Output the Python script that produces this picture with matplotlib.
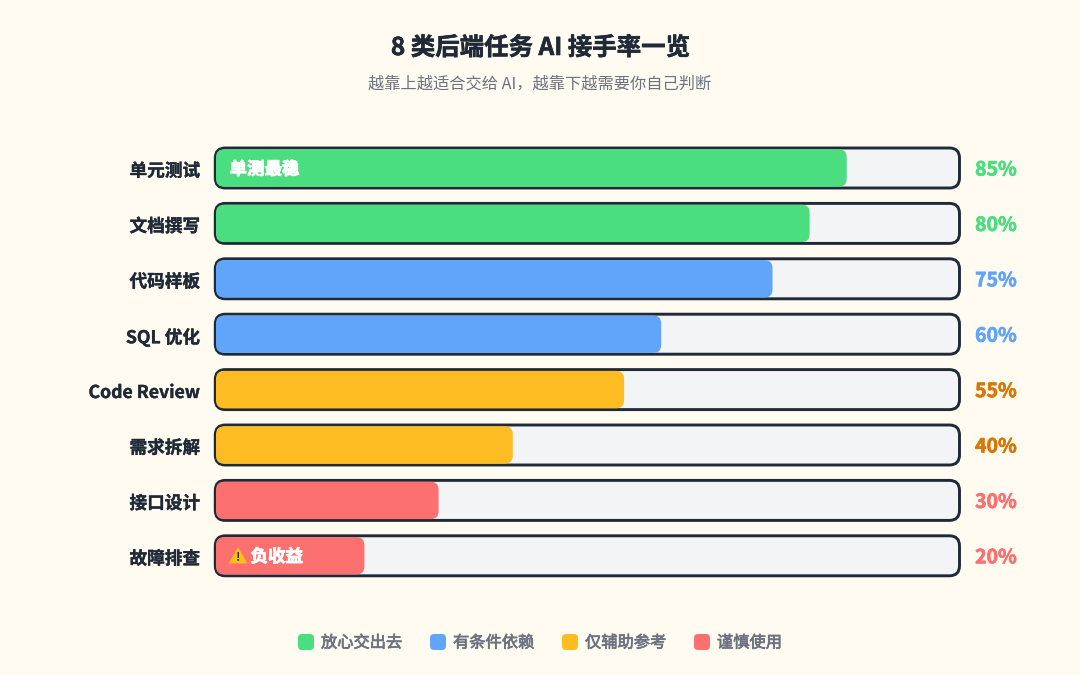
#!/usr/bin/env python
"""8 类后端任务 AI 接手率一览 -- horizontal progress bars."""
import matplotlib
matplotlib.use("Agg")
import matplotlib.patheffects as pe
import matplotlib.pyplot as plt
from matplotlib.patches import FancyBboxPatch, RegularPolygon
from matplotlib.transforms import IdentityTransform, ScaledTranslation

plt.rcParams["font.family"] = ["Noto Sans CJK SC", "DejaVu Sans"]

W, H = 1080, 675

TASKS = ["单元测试", "文档撰写", "代码样板", "SQL 优化", "Code Review", "需求拆解", "接口设计", "故障排查"]
RATES = [85, 80, 75, 60, 55, 40, 30, 20]
GROUPS = ["safe", "safe", "cond", "cond", "assist", "assist", "care", "care"]
LEGEND_LABELS = ["放心交出去", "有条件依赖", "仅辅助参考", "谨慎使用"]
LEGEND_GROUPS = ["safe", "cond", "assist", "care"]
LEGEND_SWATCH_X = [298, 430, 562, 694]

COLORS = {"safe": "#4ade80", "cond": "#60a5fa", "assist": "#fdbd22", "care": "#fc7070"}
TEXT_COLORS = {"safe": "#4ade80", "cond": "#60a5fa", "assist": "#d97706", "care": "#fc7070"}
BG = "#fffbf0"
DARK = "#1f2937"
GREY = "#6b7280"

# axes: 0..100 spans the inner track, rows sit 55.4 px apart
X0, X1 = 216, 958
Y0, Y7 = 168, 555.8
PX_X = (X1 - X0) / 100
PX_Y = (Y7 - Y0) / 7
ASPECT = PX_X / PX_Y


def heavy(color, w=0.35):
    # the reference text is a touch heavier than the installed bold
    return [pe.withStroke(linewidth=w, foreground=color)]


def rbar(ax, x, w, y, half, radius_px, **kw):
    p = FancyBboxPatch((x, y - half), w, 2 * half,
                       boxstyle=f"round,pad=0,rounding_size={radius_px / PX_X}",
                       mutation_scale=1, mutation_aspect=ASPECT, clip_on=False, **kw)
    ax.add_patch(p)


fig = plt.figure(figsize=(W / 100, H / 100), dpi=100, facecolor=BG)
ax = fig.add_axes([X0 / W, 1 - Y7 / H, (X1 - X0) / W, (Y7 - Y0) / H])
ax.patch.set_alpha(0)
ax.set_xlim(0, 100)
ax.set_ylim(7, 0)
ax.xaxis.set_visible(False)
for s in ax.spines.values():
    s.set_visible(False)
ax.set_yticks(range(len(TASKS)))
ax.set_yticklabels(TASKS, fontsize=12.7, fontweight="bold", color=DARK)
ax.tick_params(axis="y", length=0, pad=11.5)
down = ScaledTranslation(0, -1 / 72, fig.dpi_scale_trans)
for lab in ax.get_yticklabels():
    lab.set_transform(lab.get_transform() + down)
    lab.set_path_effects(heavy(DARK, 0.25))

for i, (rate, grp) in enumerate(zip(RATES, GROUPS)):
    rbar(ax, -0.1, 100.3, i, 20 / PX_Y, 10, fc="#f3f4f6", ec=DARK, lw=2.1, zorder=1)
    rbar(ax, 0, rate, i, 18.7 / PX_Y, 8, fc=COLORS[grp], ec="none", zorder=2)
    ax.text(102.3, i + 2 / PX_Y, f"{rate}%", ha="left", va="center", fontsize=14,
            fontweight="bold", color=TEXT_COLORS[grp],
            path_effects=heavy(TEXT_COLORS[grp], 0.5))

# bar notes
ax.text(13.5 / PX_X, 1.5 / PX_Y, "单测最稳", ha="left", va="center", fontsize=12.6,
        fontweight="bold", color="white", zorder=3, path_effects=heavy("white", 0.6))
ax.text(34.5 / PX_X, 7 + 1.2 / PX_Y, "负收益", ha="left", va="center", fontsize=12.6,
        fontweight="bold", color="white", zorder=3, path_effects=heavy("white", 0.6))
ax.add_patch(RegularPolygon((238, H - 558), 3, radius=9.5, fc="#fdc010", ec="#fdc010",
                            lw=1, joinstyle="round", transform=IdentityTransform(),
                            clip_on=False, zorder=3))
ax.text(22 / PX_X, 7 + 1.5 / PX_Y, "!", ha="center", va="center", fontsize=8.5,
        fontweight="bold", color="#333333", zorder=4)

fig.text(540 / W, 1 - 48 / H, "8 类后端任务 AI 接手率一览", ha="center", va="center",
         fontsize=17.6, fontweight="bold", color=DARK, path_effects=heavy(DARK, 0.4))
fig.text(540 / W, 1 - 84 / H, "越靠上越适合交给 AI，越靠下越需要你自己判断", ha="center",
         va="center", fontsize=11.7, color=GREY)

# legend row
for x, grp, lbl in zip(LEGEND_SWATCH_X, LEGEND_GROUPS, LEGEND_LABELS):
    fig.patches.append(FancyBboxPatch((x, H - 650), 16, 16,
                                      boxstyle="round,pad=0,rounding_size=4",
                                      mutation_scale=1, fc=COLORS[grp], ec="none",
                                      transform=None, figure=fig))
    fig.text((x + 23) / W, 1 - 643 / H, lbl, ha="left", va="center", fontsize=11.7,
             color=GREY, path_effects=heavy(GREY, 0.5))

fig.savefig("out.png", dpi=100, facecolor=BG)
